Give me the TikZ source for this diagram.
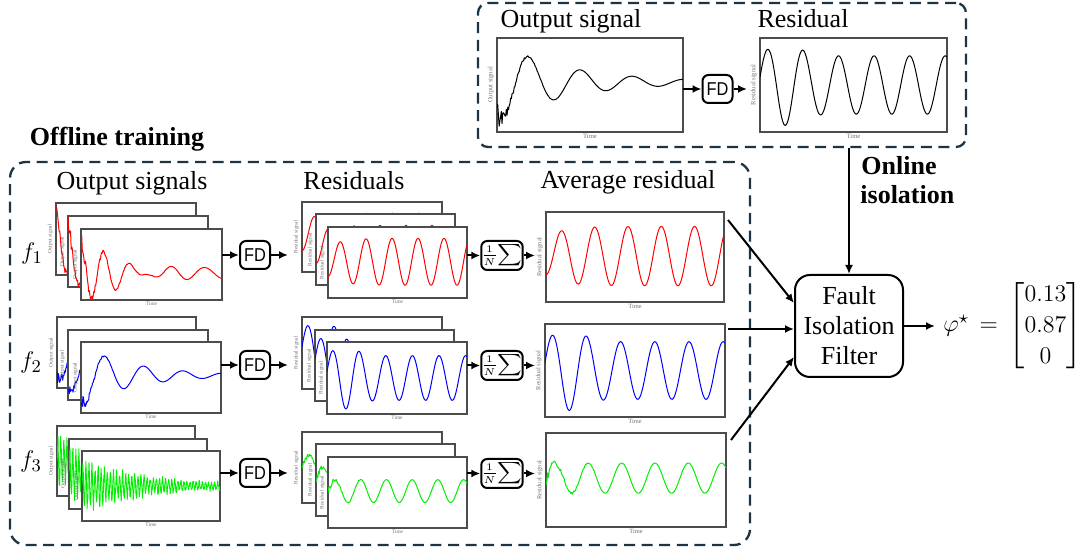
\documentclass[tikz,border=0pt]{standalone}
\usepackage{amsmath}
\usepackage[no-math]{fontspec}
\setmainfont{Liberation Serif}
\newfontfamily\fdfont{Liberation Sans}
\usetikzlibrary{arrows.meta,fit}
\definecolor{dashcol}{RGB}{28,52,68}
\definecolor{sred}{RGB}{255,0,0}
\definecolor{sblue}{RGB}{0,0,255}
\definecolor{sgreen}{RGB}{0,240,0}
\newcommand\labsz{2.8}
\newcommand\nsamp{200}
\tikzset{
  frame/.style={draw=black!70, fill=white, line width=0.55pt, inner sep=0pt, outer sep=0pt},
  dashbox/.style={draw=dashcol, line width=1.15pt, dash pattern=on 5.5pt off 3.3pt, rounded corners=6pt, inner sep=0pt},
  arr/.style={line width=1pt, -{Latex[length=4.5pt,width=4pt]}},
  procbox/.style={draw, line width=1pt, rounded corners=3pt, minimum width=15pt, minimum height=14pt, inner sep=0pt},
  title/.style={font=\fontsize{13}{15}\selectfont, anchor=base, inner sep=0pt},
  ylab/.style={font=\fontsize{\labsz}{\labsz}\selectfont, text=black!55, rotate=90, inner sep=1.4pt},
  tlab/.style={font=\fontsize{\labsz}{\labsz}\selectfont, text=black!55, inner sep=1pt},
  sigline/.style={line width=0.5pt, line join=round},
}
\newcommand\plotbox[8]{%
  \node[frame, fit={(#2,#3) (#4,#5)}] (#1) {};
  \node[ylab, anchor=south] (#1-y) at (#2,{(#3+#5)/2}) {#6};
  \node[tlab, anchor=north] (#1-t) at ({(#2+#4)/2},#5) {Time};
  \begin{scope}
    \clip (#2,#3) rectangle (#4,#5);
    \draw[sigline,#7] plot[domain=0:1, samples=\nsamp, variable=\t]
      ({#2+(#4-#2)*\t},{#5-(#5-#3)*(#8)});
  \end{scope}%
}
% signal shapes (fraction of frame height, from bottom)
\newcommand\eB{0.53-0.42*exp(-2.6*\t)*cos(360*(\t-0.03)/0.28)+(0.1*exp(-\t/0.04)+0.03*exp(-\t/0.12))*rand}
\newcommand\eR{0.38+0.55*exp(-5*\t)*cos(360*\t/0.165)+0.08*sin(360*(\t-0.5675)/0.25)+(0.12*exp(-\t/0.05)+0.03*exp(-\t/0.25))*rand}
\newcommand\eG{0.5+0.43*exp(-2.2*\t)*sin(360*45*\t)*(0.75+0.25*rand)+0.03*rand}
\newcommand\rR{0.51+0.33*(1-0.35*exp(-\t/0.1))*sin(360*(\t-0.04)/0.187)}
\newcommand\rB{0.5+(0.31+0.12*exp(-((\t-0.13)/0.12)*((\t-0.13)/0.12)))*sin(360*(\t+0.0075)/0.19)}
\newcommand\rG{0.52+0.16*sin(360*(\t-0.004)/0.185)+0.05*exp(-\t/0.1)*rand}
\begin{document}
\begin{tikzpicture}[x=0.5pt,y=-0.5pt]
\pgfmathsetseed{12}
\useasboundingbox (0,0) rectangle (1086,549);

% dashed regions
\node[dashbox, rounded corners=5pt, fit={(478,3) (966,147)}] (online) {};
\node[dashbox, rounded corners=8pt, fit={(10,162) (750,545)}] (offline) {};

\node[font=\fontsize{13}{15}\selectfont\bfseries, anchor=base, inner sep=0pt] (offl) at (117,146) {Offline training};
\node[font=\fontsize{13}{15}\selectfont\bfseries, anchor=base west, inner sep=0pt] (onl1) at (861,175) {Online};
\node[font=\fontsize{13}{15}\selectfont\bfseries, anchor=base west, inner sep=0pt] (onl2) at (860,204) {isolation};

% ---------------- online part ----------------
\node[title] (tt1) at (571,28) {Output signal};
\node[title] (tt2) at (803,28) {Residual};
\renewcommand\labsz{3.3}
\renewcommand\nsamp{260}
\plotbox{tout}{497}{38}{683}{132}{Output signal}{black}{\eB}
\plotbox{tres}{760}{38}{947}{132}{Residual signal}{black}{\rB}
\node[procbox] (tfd) at (717.5,89) {\fdfont\fontsize{9.3}{10}\selectfont\scalebox{0.88}[1]{FD}};
\coordinate (tin) at (747,89);
\draw[arr] (tout.east |- tfd) -- (tfd.west);
\draw[arr] (tfd.east) -- (tin);

% ---------------- offline part: titles ----------------
\node[title] (h1) at (132,190) {Output signals};
\node[title] (h2) at (354,190) {Residuals};
\node[title] (h3) at (628,189) {Average residual};

\node[font=\fontsize{13}{15}\selectfont] (f1) at (32,254) {$f_1$};
\node[font=\fontsize{13}{15}\selectfont] (f2) at (31,363) {$f_2$};
\node[font=\fontsize{13}{15}\selectfont] (f3) at (31,462) {$f_3$};

\renewcommand\labsz{2.7}
\renewcommand\nsamp{220}
% row 1
\plotbox{o1a}{56}{203}{196}{275}{Output signal}{sred}{\eR}
\plotbox{o1b}{68}{216}{208}{287}{Output signal}{sred}{\eR}
\plotbox{o1c}{81}{229}{222}{300}{Output signal}{sred}{\eR}
\plotbox{r1a}{302}{202}{442}{272}{Residual signal}{sred}{\rR}
\plotbox{r1b}{316}{214}{455}{285}{Residual signal}{sred}{\rR}
\plotbox{r1c}{328}{227}{467}{298}{Residual signal}{sred}{\rR}
% row 2
\plotbox{o2a}{57}{317}{196}{388}{Output signal}{sblue}{\eB}
\plotbox{o2b}{68}{330}{208}{400}{Output signal}{sblue}{\eB}
\plotbox{o2c}{81}{342}{221}{413}{Output signal}{sblue}{\eB}
\plotbox{r2a}{302}{317}{442}{389}{Residual signal}{sblue}{\rB}
\plotbox{r2b}{315}{330}{454}{401}{Residual signal}{sblue}{\rB}
\plotbox{r2c}{327}{342}{467}{414}{Residual signal}{sblue}{\rB}
% row 3
\renewcommand\nsamp{541}
\plotbox{o3a}{57}{426}{195}{496}{Output signal}{sgreen,line width=0.45pt}{\eG}
\plotbox{o3b}{69}{439}{207}{509}{Output signal}{sgreen,line width=0.45pt}{\eG}
\plotbox{o3c}{82}{451}{220}{521}{Output signal}{sgreen,line width=0.45pt}{\eG}
\renewcommand\nsamp{220}
\plotbox{r3a}{302}{432}{442}{503}{Residual signal}{sgreen}{\rG}
\plotbox{r3b}{316}{444}{455}{516}{Residual signal}{sgreen}{\rG}
\plotbox{r3c}{328}{457}{467}{528}{Residual signal}{sgreen}{\rG}
% averages
\renewcommand\labsz{3.2}
\plotbox{a1}{546}{212}{724}{302}{Residual signal}{sred}{\rR}
\plotbox{a2}{545}{324}{725}{417}{Residual signal}{sblue}{\rB}
\plotbox{a3}{546}{433}{726}{527}{Residual signal}{sgreen}{\rG}

% processing boxes
\foreach \i/\y in {1/255,2/365,3/473}{
  \node[procbox] (fd\i) at (255,\y) {\fdfont\fontsize{9.3}{10}\selectfont\scalebox{0.88}[1]{FD}};
}
\foreach \i/\y in {1/255.5,2/365.5,3/473.5}{
  \node[procbox, minimum width=14.5pt, minimum height=14.5pt] (sm\i) at (502,\y)
    {\fontsize{7.6}{8}\selectfont$\frac{1}{N}\!\displaystyle\sum$};
}
\coordinate (r1in) at (288,255);
\coordinate (r2in) at (288,365);
\coordinate (r3in) at (288,473);
\coordinate (a1in) at (535,255.5);
\coordinate (a2in) at (535,365.5);
\coordinate (a3in) at (535,473.5);
\foreach \i in {1,2,3}{
  \draw[arr] (o\i c.east |- fd\i) -- (fd\i.west);
  \draw[arr] (fd\i.east) -- (r\i in);
  \draw[arr] (r\i c.east |- sm\i) -- (sm\i.west);
  \draw[arr] (sm\i.east) -- (a\i in);
}

% fault isolation filter
\node[draw, line width=1pt, rounded corners=7.5pt, minimum width=54pt, minimum height=51pt,
      align=center, font=\fontsize{13}{15}\selectfont, inner sep=0pt] (fif) at (849,326)
      {Fault\\Isolation\\Filter};
\coordinate (a1out) at (728,220);
\coordinate (a2out) at (728,329);
\coordinate (a3out) at (731,440);
\draw[arr] (a1out) -- ([shift={(0,-23)}]fif.west);
\draw[arr] (a2out) -- ([shift={(0,3)}]fif.west);
\draw[arr] (a3out) -- ([shift={(0,31)}]fif.west);
\draw[arr] (online.south -| fif.north) -- (fif.north);

\node[anchor=west, inner xsep=4pt, inner ysep=0pt, font=\fontsize{13}{15.6}\selectfont] (phi) at (935,326)
  {$\varphi^{\star}\,=\,\begin{bmatrix}0.13\\0.87\\0\end{bmatrix}$};
\draw[arr] (fif.east) -- (phi.west);
\end{tikzpicture}
\end{document}
